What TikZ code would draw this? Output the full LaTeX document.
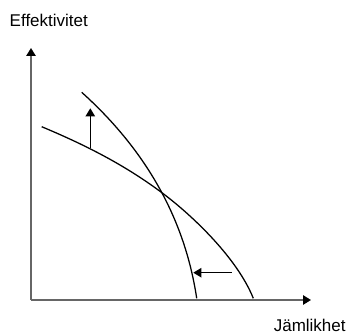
\documentclass[tikz,border=0pt]{standalone}
\usepackage{fontspec}
\setmainfont{Liberation Sans}
\usetikzlibrary{arrows.meta}
\begin{document}
\begin{tikzpicture}[x=0.75pt,y=-0.75pt,
  axis/.style={draw=black!60,line width=1.3pt,-{Triangle[length=6pt,width=7pt,fill=black,color=black]}},
  curve/.style={draw=black,line width=0.95pt},
  movearrow/.style={draw=black,line width=0.95pt,-{Triangle[length=6pt,width=7pt]}},
  lbl/.style={inner sep=0pt,font=\fontsize{12.75}{15}\selectfont}]
\useasboundingbox (0,0) rectangle (346,335);
\coordinate (O) at (31,300);
\coordinate (Ytip) at (31,48);
\coordinate (Xtip) at (311,300);
\draw[axis] (O) -- (Ytip);
\draw[axis] (O) -- (Xtip);
\node[lbl,anchor=base] (ylab) at (48.8,27) {Effektivitet};
\node[lbl,anchor=base] (xlab) at (309.7,331.7) {Jämlikhet};
% steep curve
\coordinate (A0) at (81.7,92.3);
\coordinate (A1) at (196.7,298.3);
\draw[curve] (A0) .. controls (136.7,141.8) and (183.2,208.3) .. (A1);
% flatter curve
\coordinate (B0) at (41.7,126.7);
\coordinate (BX) at (162.7,193.3);
\coordinate (B1) at (253.3,298.3);
\draw[curve] (B0) .. controls (81.7,143.5) and (122.7,163.3) .. (BX)
  .. controls (192.7,215.8) and (237.3,258.3) .. (B1);
\coordinate (ua0) at (90.3,148.3);
\coordinate (ua1) at (90.3,108.3);
\draw[movearrow] (ua0) -- (ua1);
\coordinate (la0) at (231.7,272.7);
\coordinate (la1) at (193.3,272.7);
\draw[movearrow] (la0) -- (la1);
\end{tikzpicture}
\end{document}
